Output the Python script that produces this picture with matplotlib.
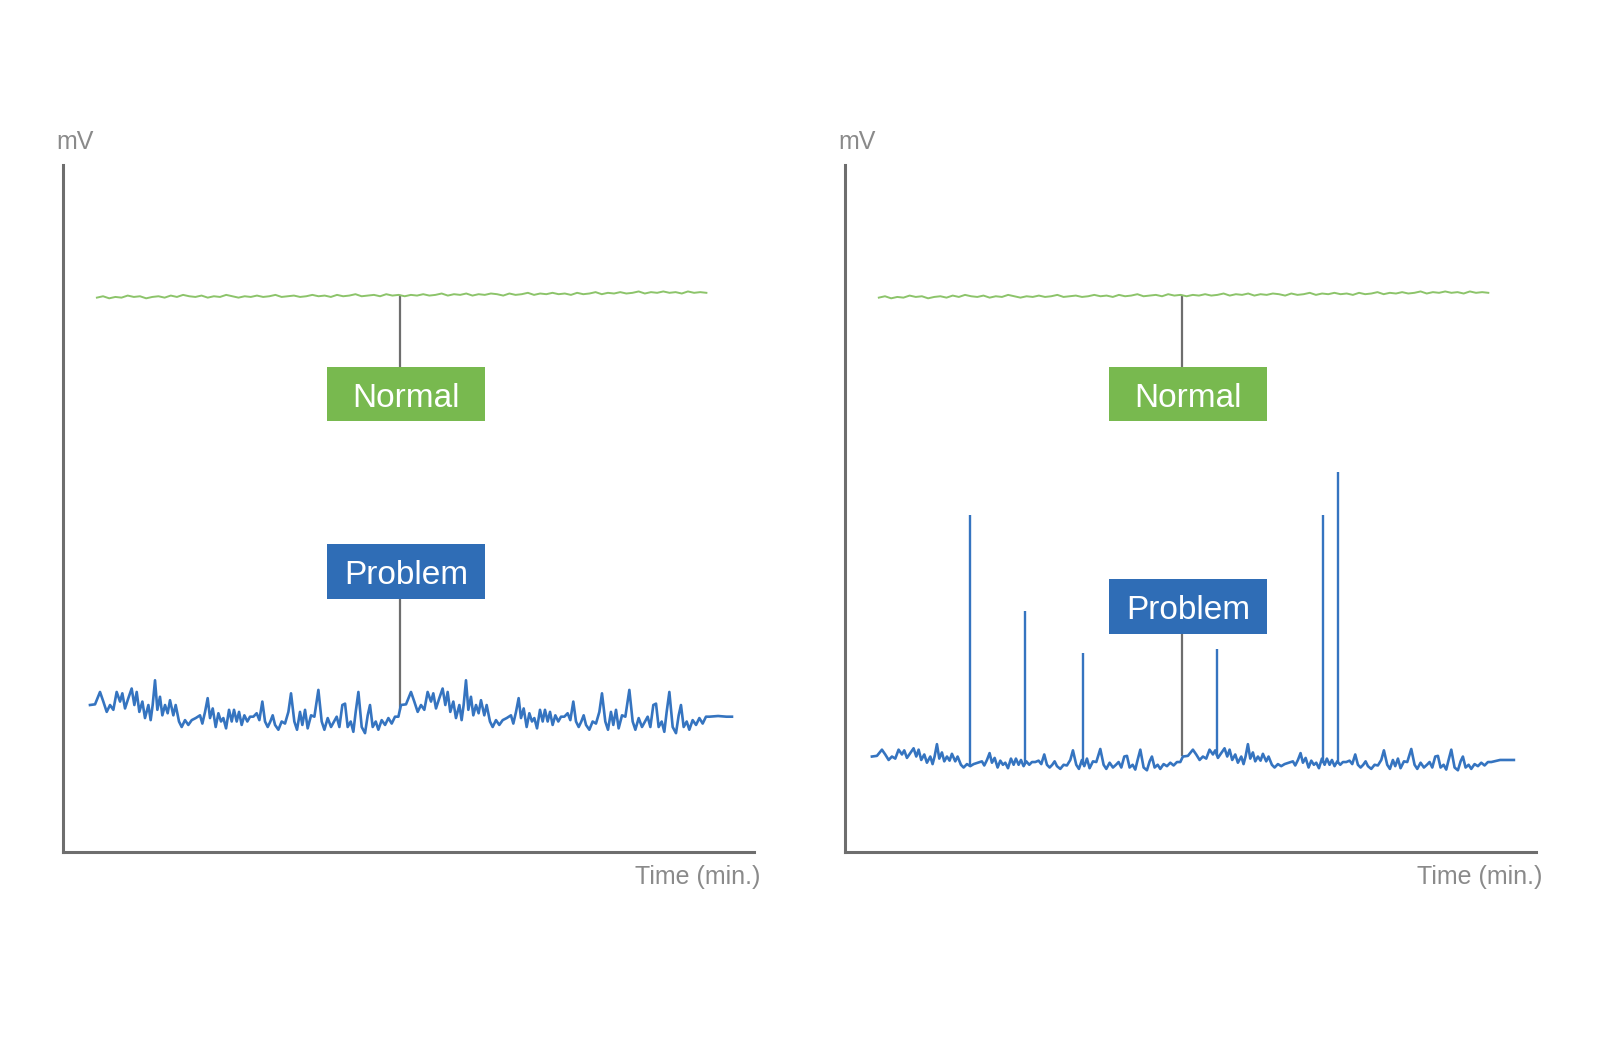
import numpy as np
import matplotlib
matplotlib.use("Agg")
import matplotlib.pyplot as plt
from matplotlib.patches import Rectangle

# ===== DATA =====
# time axis runs 0..100 (min), signal axis 0..100 (mV), both panels share it

# green "Normal" baseline: flat with tiny noise, slowly rising to the right
green_start, green_end = 4.9, 93.1
green_v = [80.7, 80.9, 80.6, 80.8, 80.7, 81.0, 80.8, 80.9, 80.6, 80.8,
           80.9, 80.7, 81.0, 80.8, 81.1, 80.9, 80.8, 81.0, 80.7, 80.9,
           80.8, 81.1, 80.9, 80.7, 80.9, 80.8, 81.0, 80.8, 80.9, 81.1,
           80.8, 80.9, 81.0, 80.8, 80.9, 81.1, 80.9, 81.0, 80.8, 81.1,
           80.9, 81.0, 81.2, 80.9, 81.0, 81.1, 80.9, 81.2, 81.0, 81.1,
           80.9, 81.1, 81.0, 81.2, 81.0, 81.1, 81.3, 81.0, 81.2, 81.1,
           81.3, 81.0, 81.2, 81.1, 81.3, 81.2, 81.0, 81.3, 81.1, 81.2,
           81.4, 81.1, 81.3, 81.2, 81.4, 81.2, 81.3, 81.1, 81.4, 81.2,
           81.3, 81.5, 81.2, 81.4, 81.3, 81.5, 81.3, 81.4, 81.6, 81.3,
           81.5, 81.4, 81.6, 81.4, 81.5, 81.3, 81.6, 81.4, 81.5, 81.4]

# blue "Problem" trace: the noise pattern is drawn twice (repeats after 45 min)
period = 45.0
half_t = [3.90, 4.63, 5.35, 5.83, 6.32, 6.80, 7.28, 7.76, 8.25, 8.58,
          8.97, 9.45, 9.93, 10.32, 10.66, 11.04, 11.48, 11.86, 12.35, 12.68,
          12.97, 13.31, 13.65, 14.03, 14.37, 14.76, 15.14, 15.48, 15.96, 16.30,
          16.78, 17.17, 17.65, 18.13, 18.62, 19.20, 19.82, 20.16, 20.55, 20.93,
          21.27, 21.66, 22.09, 22.48, 22.86, 23.20, 23.59, 24.02, 24.41, 24.74,
          25.13, 25.47, 25.85, 26.24, 26.67, 27.06, 27.54, 28.02, 28.41, 28.84,
          29.23, 29.62, 30.00, 30.34, 30.68, 31.16, 31.64, 32.12, 32.61, 32.99,
          33.47, 33.86, 34.29, 34.63, 35.02, 35.40, 35.89, 36.37, 36.95, 37.43,
          37.82, 38.30, 38.78, 39.22, 39.60, 39.99, 40.42, 40.81, 41.19, 41.63,
          42.01, 42.35, 42.74, 43.22, 43.70, 44.09, 44.42, 44.81, 45.25, 45.63,
          46.11, 46.60, 47.08, 47.56, 48.04, 48.53]
tail_t = [94.8, 96.0, 96.8]

left_v = [21.4, 21.5, 23.3, 21.9, 20.4, 21.4, 20.7, 23.3, 21.9, 23.1,
          20.9, 22.4, 23.8, 21.4, 23.3, 20.4, 21.9, 19.5, 21.4, 19.2,
          21.4, 25.0, 20.7, 22.6, 19.9, 21.4, 20.2, 22.1, 19.9, 21.4,
          19.0, 18.2, 19.2, 18.5, 19.2, 19.5, 19.9, 18.7, 20.4, 22.4,
          19.5, 20.9, 18.2, 20.2, 19.0, 19.5, 18.0, 20.7, 19.0, 20.7,
          19.0, 20.4, 18.5, 19.9, 19.0, 19.7, 19.7, 20.2, 19.2, 21.9,
          19.0, 18.2, 19.0, 19.9, 18.5, 17.8, 19.0, 18.7, 20.4, 23.1,
          19.0, 17.8, 20.4, 18.5, 20.7, 18.0, 19.9, 19.7, 23.6, 19.0,
          17.8, 19.5, 18.2, 19.0, 19.7, 18.2, 21.4, 21.6, 18.2, 19.0,
          17.5, 20.4, 23.3, 18.2, 17.3, 19.9, 21.4, 18.2, 19.0, 17.8,
          19.2, 18.5, 19.5, 18.7, 19.7, 19.7]
left_tail_v = [19.8, 19.7, 19.7]

right_v = [13.9, 14.0, 14.9, 14.2, 13.4, 13.9, 13.6, 14.9, 14.2, 14.8,
           13.7, 14.4, 15.1, 13.9, 14.9, 13.4, 14.2, 13.0, 13.9, 12.8,
           13.9, 15.7, 13.6, 14.5, 13.2, 13.9, 13.3, 14.3, 13.2, 13.9,
           12.7, 12.3, 12.8, 12.5, 12.8, 13.0, 13.2, 12.6, 13.4, 14.4,
           13.0, 13.7, 12.3, 13.3, 12.7, 13.0, 12.2, 13.6, 12.7, 13.6,
           12.7, 13.4, 12.5, 13.2, 12.7, 13.1, 13.1, 13.3, 12.8, 14.2,
           12.7, 12.3, 12.7, 13.2, 12.5, 12.1, 12.7, 12.6, 13.4, 14.8,
           12.7, 12.1, 13.4, 12.5, 13.6, 12.2, 13.2, 13.1, 15.0, 12.7,
           12.1, 13.0, 12.3, 12.7, 13.1, 12.3, 13.9, 14.0, 12.3, 12.7,
           12.0, 13.4, 14.9, 12.3, 11.9, 13.2, 13.9, 12.3, 12.7, 12.1,
           12.8, 12.5, 13.0, 12.6, 13.1, 13.1]
right_tail_v = [13.4, 13.4, 13.4]

# sharp spikes in the right panel
spike_t = [18.1, 26.0, 34.4, 53.8, 69.2, 71.3]
spike_base = [12.6, 12.8, 12.7, 14.0, 13.0, 12.8]
spike_top = [49.1, 35.1, 29.0, 29.5, 49.1, 55.3]

# ===== STYLE =====
axis_gray = "#6e6e6e"
text_gray = "#8a8a8a"
green_line = "#8cc46a"
green_box = "#78b94f"
blue_line = "#3574c0"
blue_box = "#2f6db6"

plt.rcParams["font.family"] = ["Liberation Sans", "DejaVu Sans"]


def blue_trace(values, tail_values):
    t = np.concatenate([half_t, np.array(half_t) + period, tail_t])
    v = np.concatenate([values, values, tail_values])
    return t, v


def label_box(ax, text, cx, y0, y1, color):
    w = 22.9
    ax.add_patch(Rectangle((cx - w / 2, y0), w, y1 - y0,
                           facecolor=color, edgecolor="none", zorder=4))
    ax.text(cx, (y0 + y1) / 2 - 0.6, text, ha="center", va="center",
            color="white", fontsize=24, zorder=5)


def setup_panel(ax):
    ax.set_xlim(0, 100)
    ax.set_ylim(0, 100)
    for side in ["top", "right"]:
        ax.spines[side].set_visible(False)
    for side in ["left", "bottom"]:
        ax.spines[side].set_color(axis_gray)
        ax.spines[side].set_linewidth(2.2)
    ax.set_xticks([])
    ax.set_yticks([])
    ax.patch.set_alpha(0)
    ax.text(-1.0, 103.3, "mV", ha="left", va="center",
            fontsize=18, color=text_gray, clip_on=False)
    ax.text(100.9, -3.6, "Time (min.)", ha="right", va="center",
            fontsize=18, color=text_gray, clip_on=False)


# ===== FIGURE =====
fig = plt.figure(figsize=(16, 10.6), dpi=100)
ax_l = fig.add_axes([0.0394, 0.1962, 0.4319, 0.6481])
ax_r = fig.add_axes([0.5281, 0.1962, 0.4319, 0.6481])

green_t = np.linspace(green_start, green_end, len(green_v))
conn_t = 48.8

# left panel: noisy baseline
setup_panel(ax_l)
ax_l.plot(green_t, green_v, color=green_line, lw=1.4, zorder=3)
t, v = blue_trace(left_v, left_tail_v)
ax_l.plot(t, v, color=blue_line, lw=1.9, zorder=3)
ax_l.plot([conn_t, conn_t], [70.6, 81.0], color=axis_gray, lw=1.6, zorder=2)
ax_l.plot([conn_t, conn_t], [20.8, 36.8], color=axis_gray, lw=1.6, zorder=2)
label_box(ax_l, "Normal", 49.65, 62.7, 70.6, green_box)
label_box(ax_l, "Problem", 49.65, 36.8, 44.8, blue_box)

# right panel: spikes
setup_panel(ax_r)
ax_r.plot(green_t, green_v, color=green_line, lw=1.4, zorder=3)
t, v = blue_trace(right_v, right_tail_v)
ax_r.plot(t, v, color=blue_line, lw=1.9, zorder=3)
ax_r.vlines(spike_t, spike_base, spike_top, color=blue_line, lw=1.7, zorder=3)
ax_r.plot([conn_t, conn_t], [70.6, 81.0], color=axis_gray, lw=1.6, zorder=2)
ax_r.plot([conn_t, conn_t], [14.1, 31.7], color=axis_gray, lw=1.6, zorder=2)
label_box(ax_r, "Normal", 49.65, 62.7, 70.6, green_box)
label_box(ax_r, "Problem", 49.65, 31.7, 39.7, blue_box)

fig.savefig("out.png", dpi=100)
